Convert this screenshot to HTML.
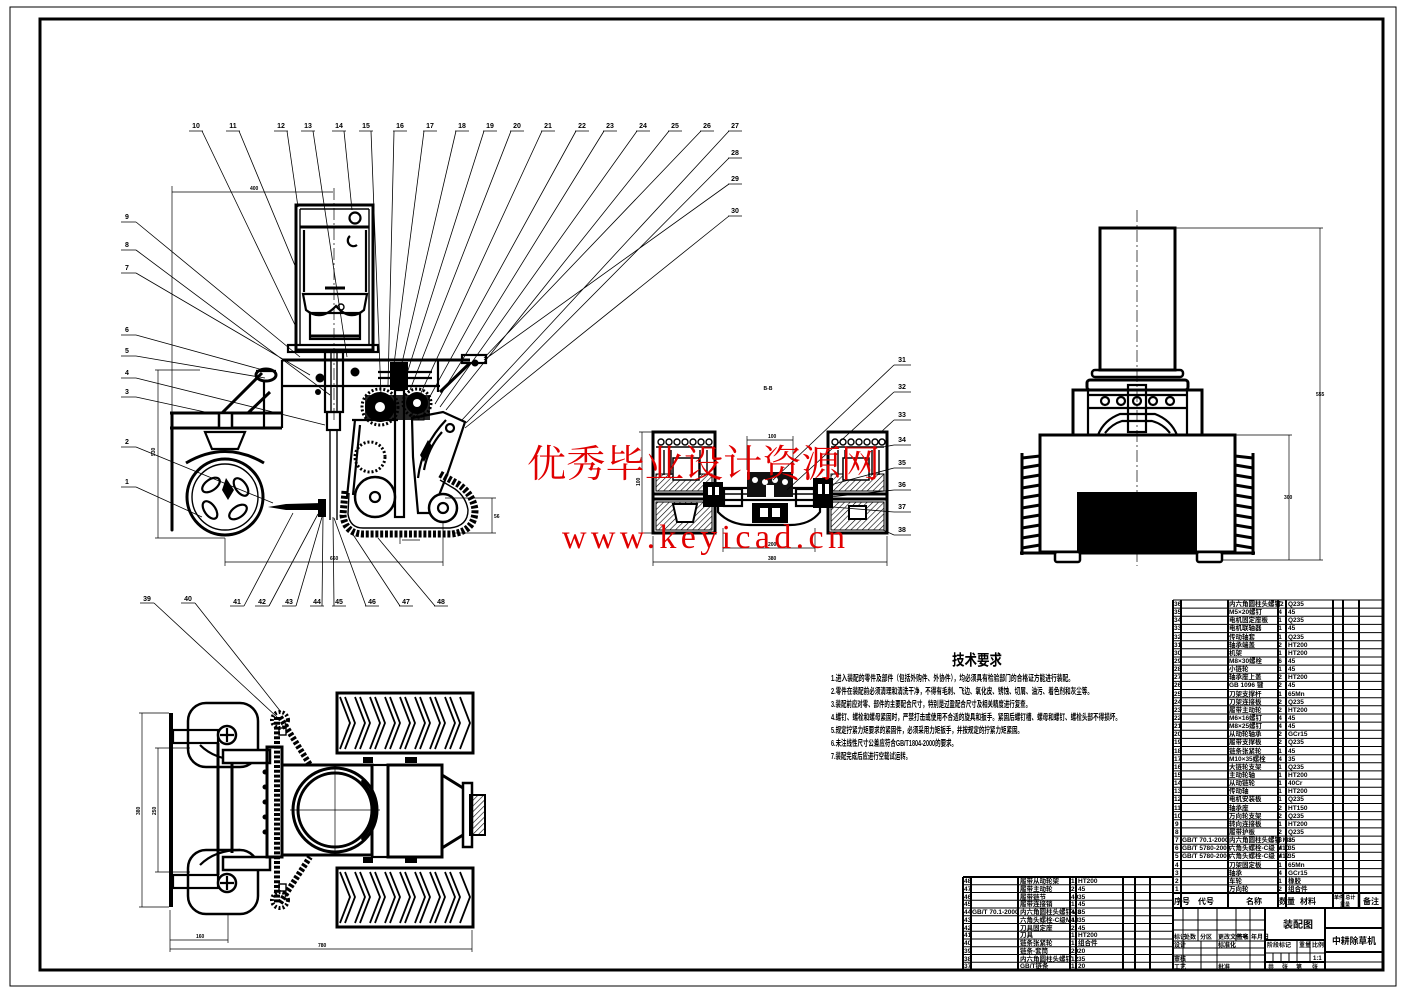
<!DOCTYPE html>
<html><head><meta charset="utf-8">
<style>
html,body{margin:0;padding:0;background:#fff;}
svg{display:block;}
text{font-family:"Liberation Sans","Noto Sans CJK SC",sans-serif;fill:#000;}
.t{font-size:7px;font-weight:bold;}
.l{stroke:#000;stroke-width:0.8;fill:none;}
.k{stroke:#000;stroke-width:2.2;fill:none;}
.kk{stroke:#000;stroke-width:3;fill:none;}
.m{stroke:#000;stroke-width:1.4;fill:none;}
.d{stroke:#000;stroke-width:0.7;fill:none;}
.cl{stroke:#000;stroke-width:0.7;fill:none;stroke-dasharray:12 3 2 3;}
</style></head><body>
<svg width="1403" height="992" viewBox="0 0 1403 992" xmlns="http://www.w3.org/2000/svg">
<defs>
<pattern id="h" width="4" height="4" patternUnits="userSpaceOnUse" patternTransform="rotate(45)"><line x1="0" y1="0" x2="0" y2="4" stroke="#000" stroke-width="1.2"/></pattern>
</defs>
<rect width="1403" height="992" fill="#fff"/>
<rect x="10" y="7" width="1386" height="979" fill="none" stroke="#000" stroke-width="1"/>
<rect x="40" y="19" width="1343" height="951" fill="none" stroke="#000" stroke-width="3"/>

<!-- ============ SIDE VIEW: leaders ============ -->
<g class="t" text-anchor="middle">
<text x="196" y="128">10</text><text x="233" y="128">11</text><text x="281" y="128">12</text><text x="308" y="128">13</text>
<text x="339" y="128">14</text><text x="366" y="128">15</text><text x="400" y="128">16</text><text x="430" y="128">17</text>
<text x="462" y="128">18</text><text x="490" y="128">19</text><text x="517" y="128">20</text><text x="548" y="128">21</text>
<text x="582" y="128">22</text><text x="610" y="128">23</text><text x="643" y="128">24</text><text x="675" y="128">25</text>
<text x="707" y="128">26</text><text x="735" y="128">27</text><text x="735" y="155">28</text><text x="735" y="181">29</text><text x="735" y="213">30</text>
<text x="127" y="219">9</text><text x="127" y="247">8</text><text x="127" y="270">7</text><text x="127" y="332">6</text>
<text x="127" y="353">5</text><text x="127" y="375">4</text><text x="127" y="394">3</text><text x="127" y="444">2</text><text x="127" y="484">1</text>
<text x="237" y="604">41</text><text x="262" y="604">42</text><text x="289" y="604">43</text><text x="317" y="604">44</text>
<text x="339" y="604">45</text><text x="372" y="604">46</text><text x="406" y="604">47</text><text x="441" y="604">48</text>
<text x="147" y="601">39</text><text x="188" y="601">40</text>
</g>
<path class="l" d="
M189,131H203 M226,131H240 M274,131H288 M301,131H315 M332,131H346 M359,131H373 M393,131H407 M423,131H437 M455,131H469 M483,131H497 M510,131H524 M541,131H555 M575,131H589 M603,131H617 M636,131H650 M668,131H682 M700,131H714 M728,131H742 M728,158H742 M728,184H742 M728,216H742
M202,131L296,327 M239,131L296,268 M287,131L298,207 M313,131L347,357 M344,131L352,210 M371,131L381,395
M394,131L388,385 M424,131L393,372 M456,131L398,380 M484,131L403,386 M511,131L410,390 M542,131L420,395
M576,131L428,400 M604,131L435,404 M637,131L440,407 M669,131L446,410 M701,131L484,358 M729,131L462,420
M729,158L466,423 M729,184L484,360 M729,216L465,428
M121,222H136 M121,250H136 M121,273H136 M121,335H136 M121,356H136 M121,378H136 M121,397H136 M121,447H136 M121,487H136
M136,222L300,357 M136,250L330,395 M136,273L310,375 M136,335L263,370 M136,356L265,378 M136,378L325,425 M136,397L205,412 M136,447L273,503 M136,487L202,517
M230,606H244 M255,606H269 M282,606H296 M310,606H324 M332,606H346 M365,606H379 M399,606H413 M434,606H448
M244,606L293,513 M269,606L318,514 M296,606L322,517 M322,606L323,517 M334,606L333,517 M366,606L334,518 M400,606L352,533 M435,606L378,538
M140,603H154 M181,603H195 M154,603L277,717 M195,603L281,712
"/>

<!-- ============ SIDE VIEW: machine ============ -->
<rect class="kk" x="296" y="205" width="77" height="145"/>
<path class="m" d="M300,209V346 M369,209V346 M300,209H369"/>
<path class="kk" d="M300,227H369"/>
<path class="k" d="M304,230V292 M366,230V292"/>
<circle class="k" cx="355" cy="218" r="5.5"/>
<path class="k" d="M350,236 A5,5 0 1 0 357,245"/>
<path class="k" d="M303,294H367 L364,310 Q350,322 336,306 Q321,322 306,310 Z"/>
<circle class="m" cx="341" cy="307" r="3"/>
<path class="kk" d="M325,288H345"/>
<rect class="k" x="310" y="313" width="50" height="26"/>
<path class="kk" d="M310,336H360"/>
<rect class="k" x="288" y="345" width="90" height="7"/>
<path class="cl" d="M334,188V420"/>
<path class="kk" d="M282,360H470"/>
<path class="k" d="M282,360V388 M282,386H440 M438,360V392"/>
<path class="kk" d="M440,392L470,363"/>
<rect class="k" x="462" y="355" width="24" height="8"/>
<circle cx="475" cy="363" r="3.5" fill="#000"/>
<ellipse class="kk" cx="266" cy="375" rx="10" ry="6"/>
<path class="k" d="M256,371H276"/>
<path class="kk" d="M170,413H282 M170,428H282"/>
<rect x="219" y="413" width="13" height="15" fill="#fff" stroke="#000" stroke-width="2.5"/>
<path class="kk" d="M172,413V530" stroke-linecap="round"/>
<path class="kk" d="M222,413L262,373 M248,413L270,392"/>
<path class="k" d="M264,380V428 M282,388V428"/>
<path class="k" d="M205,432H245L238,449H212Z"/>
<path class="kk" d="M186,463 Q225,440 264,463"/>
<circle class="kk" cx="225" cy="497" r="38"/>
<circle class="m" cx="225" cy="497" r="33"/>
<g class="k">
<ellipse cx="211" cy="485" rx="10" ry="5.5" transform="rotate(-35 211 485)"/>
<ellipse cx="241" cy="487" rx="10" ry="5.5" transform="rotate(55 241 487)"/>
<ellipse cx="238" cy="512" rx="10" ry="5.5" transform="rotate(-35 238 512)"/>
<ellipse cx="210" cy="510" rx="10" ry="5.5" transform="rotate(55 210 510)"/>
</g>
<path d="M226,478 L234,490 L228,500 L222,490Z" fill="#000"/>
<rect class="k" x="325" y="352" width="18" height="60"/>
<path class="m" d="M331,352V412 M337,352V412"/>
<rect class="k" x="327" y="412" width="13" height="18"/>
<path class="m" d="M330,430V520 M337,430V520"/>
<circle cx="320" cy="378" r="4.5" fill="#000"/>
<circle cx="355" cy="372" r="4.5" fill="#000"/>
<circle cx="318" cy="392" r="3" fill="#000"/>
<path d="M268,507 L286,504 L322,503 L322,510 L286,510Z" fill="#000"/>
<rect x="318" y="499" width="8" height="18" fill="#000"/>
<path class="k" d="M378,372H432 M378,378H432"/>
<rect x="390" y="362" width="18" height="28" fill="#000"/>
<rect class="k" x="395" y="390" width="9" height="127"/>
<path d="M365,395 H430 V420 H365Z" fill="#000" opacity="0.85"/>
<circle cx="380" cy="407" r="15" fill="#000"/>
<circle cx="380" cy="407" r="18" fill="none" stroke="#000" stroke-width="3" stroke-dasharray="2 2"/>
<circle cx="380" cy="407" r="5" fill="#fff"/>
<circle cx="417" cy="403" r="11" fill="#000"/>
<circle cx="417" cy="403" r="14" fill="none" stroke="#000" stroke-width="3" stroke-dasharray="2 2"/>
<circle cx="417" cy="403" r="4" fill="#fff"/>
<rect x="412" y="410" width="12" height="10" fill="url(#h)" stroke="#000"/>
<path class="k" d="M352,420H398 M355,420L347,497 M360,425L353,495"/>
<circle cx="370" cy="457" r="15" fill="none" stroke="#000" stroke-width="3" stroke-dasharray="2 2"/>
<path class="k" d="M412,418 L443,412 L465,422 L460,437 L447,475 L432,513 L418,513 L413,457Z"/>
<circle class="k" cx="450" cy="428" r="4"/>
<path class="k" d="M418,478 Q422,445 446,420 M424,470 Q428,448 442,432"/>
<path d="M420,455 L428,440 L432,446 L424,462Z" fill="#000"/>
<circle cx="375" cy="497" r="20" fill="#fff" stroke="#000" stroke-width="2.5"/>
<circle class="k" cx="375" cy="497" r="5"/>
<path d="M345,491 L343,515 Q345,533 362,534 L452,534 Q475,531 475,510 Q473,494 458,484 L440,474" fill="none" stroke="#000" stroke-width="7" stroke-dasharray="3 1.8"/>
<path d="M349,493 L348,514 Q350,528 363,528 L450,528 Q468,526 468,510 Q466,497 455,489 L440,480" fill="none" stroke="#000" stroke-width="1.4"/>
<circle cx="443" cy="508" r="14" fill="#fff" stroke="#000" stroke-width="2.5"/>
<circle class="k" cx="443" cy="508" r="5"/>
<path class="d" d="M172,192H333 M172,186V413 M158,370V538 M155,370H200 M155,538H225 M225,538V566 M443,522V566 M225,562H443 M492,498V533 M445,498H496 M455,533H496 M402,540H420 M400,536V544"/>
<g class="t" style="font-size:5px"><text x="250" y="190">400</text><text x="330" y="560">660</text><text x="494" y="518">56</text>
<text x="155" y="456" transform="rotate(-90 155 456)">530</text></g>

<!-- ============ SECTION VIEW B-B ============ -->
<text class="t" x="768" y="390" style="font-size:5px" text-anchor="middle">B-B</text>
<rect class="kk" x="653" y="432" width="62" height="101"/>
<rect class="kk" x="828" y="432" width="59" height="101"/>
<g class="m">
<path d="M656,447H712 M831,447H884"/>
<circle cx="661" cy="442" r="3"/><circle cx="669" cy="442" r="3"/><circle cx="677" cy="442" r="3"/><circle cx="685" cy="442" r="3"/><circle cx="693" cy="442" r="3"/><circle cx="701" cy="442" r="3"/><circle cx="709" cy="442" r="3"/>
<circle cx="835" cy="442" r="3"/><circle cx="843" cy="442" r="3"/><circle cx="851" cy="442" r="3"/><circle cx="859" cy="442" r="3"/><circle cx="867" cy="442" r="3"/><circle cx="875" cy="442" r="3"/><circle cx="882" cy="442" r="3"/>
<path d="M664,450V475 M671,450V475 M700,450V475 M707,450V475 M838,450V475 M845,450V475 M872,450V475 M879,450V475"/>
</g>
<rect x="656" y="474" width="56" height="17" fill="url(#h)" stroke="#000"/>
<rect x="673" y="458" width="26" height="22" fill="#fff" stroke="#000" stroke-width="1.5"/>
<rect x="831" y="474" width="53" height="17" fill="url(#h)" stroke="#000"/>
<rect x="843" y="458" width="26" height="22" fill="#fff" stroke="#000" stroke-width="1.5"/>
<path class="kk" d="M653,494H715 M653,499H715 M828,494H887 M828,499H887"/>
<rect x="656" y="502" width="56" height="28" fill="url(#h)" stroke="#000"/>
<path d="M673,504 L697,504 L693,522 L677,522Z" fill="#fff" stroke="#000" stroke-width="2"/>
<rect x="831" y="502" width="53" height="28" fill="url(#h)" stroke="#000"/>
<rect x="849" y="506" width="17" height="13" fill="#fff" stroke="#000" stroke-width="2"/>
<rect class="k" x="715" y="488" width="113" height="12"/>
<path class="m" d="M720,494H823"/>
<rect x="703" y="482" width="20" height="25" fill="#000"/>
<rect x="708" y="487" width="4" height="8" fill="#fff"/><rect x="715" y="487" width="4" height="8" fill="#fff"/>
<rect x="813" y="478" width="20" height="30" fill="#000"/>
<rect x="818" y="484" width="4" height="10" fill="#fff"/><rect x="825" y="484" width="4" height="10" fill="#fff"/>
<rect class="k" x="724" y="489" width="18" height="17"/>
<rect class="k" x="796" y="489" width="18" height="17"/>
<rect x="747" y="472" width="46" height="25" fill="#111"/>
<circle cx="755" cy="480" r="3" fill="#fff"/><circle cx="765" cy="482" r="3" fill="#fff"/><circle cx="775" cy="480" r="3" fill="#fff"/><circle cx="785" cy="482" r="3" fill="#fff"/>
<rect x="766" y="485" width="8" height="12" fill="#fff"/>
<path class="k" d="M718,505 L718,512 Q730,525 750,525 L790,525 Q810,525 820,512 L820,505"/>
<rect x="752" y="503" width="36" height="20" fill="#000"/>
<rect x="760" y="508" width="8" height="9" fill="#fff"/><rect x="772" y="508" width="8" height="9" fill="#fff"/>
<path class="d" d="M642,432V533 M639,432H653 M639,533H653 M653,536V566 M887,536V566 M653,562H887 M723,528V552 M815,528V552 M723,548H815 M747,436V470 M793,436V470 M747,440H793"/>
<g class="t" style="font-size:5px"><text x="768" y="438">100</text><text x="768" y="546">200</text><text x="768" y="560">380</text>
<text x="640" y="486" transform="rotate(-90 640 486)">100</text></g>
<g class="t" text-anchor="middle">
<text x="902" y="362">31</text><text x="902" y="389">32</text><text x="902" y="417">33</text><text x="902" y="442">34</text>
<text x="902" y="465">35</text><text x="902" y="487">36</text><text x="902" y="509">37</text><text x="902" y="532">38</text>
</g>
<path class="l" d="M894,365H911 M894,392H911 M894,420H911 M894,445H911 M894,468H911 M894,490H911 M894,512H911 M894,535H911
M894,365L773,480 M894,392L787,490 M894,420L880,433 M894,445L883,447 M894,468L830,485 M894,490L830,497 M894,512L833,507 M894,535L883,530"/>

<!-- ============ RIGHT VIEW ============ -->
<rect class="kk" x="1100" y="228" width="75" height="142"/>
<rect x="1092" y="370" width="91" height="7" rx="3" fill="none" stroke="#000" stroke-width="2.5"/>
<rect x="1087" y="380" width="101" height="10" rx="3" fill="#fff" stroke="#000" stroke-width="3"/>
<rect class="kk" x="1073" y="390" width="129" height="45"/>
<path class="k" d="M1088,390V435 M1187,390V435 M1088,395H1187 M1088,408H1187"/>
<g class="k"><circle cx="1105" cy="401" r="4"/><circle cx="1121" cy="401" r="4"/><circle cx="1137" cy="401" r="4"/><circle cx="1153" cy="401" r="4"/><circle cx="1170" cy="401" r="4"/></g>
<path class="k" d="M1098,435 Q1104,420 1120,414 L1155,414 Q1171,420 1177,435 M1105,433 Q1112,424 1122,421 L1152,421 Q1163,424 1170,433"/>
<rect class="k" x="1128" y="385" width="18" height="47"/>
<rect class="kk" x="1040" y="435" width="195" height="117"/>
<rect x="1077" y="492" width="120" height="60" fill="#000"/>
<path d="M1022,453 V555 M1253,453 V555" stroke="#000" stroke-width="3"/>
<g stroke="#000" stroke-width="3">
<path d="M1022,458L1040,456 M1022,468L1040,465 M1022,478L1040,475 M1022,488L1040,485 M1022,498L1040,495 M1022,508L1040,505 M1022,518L1040,515 M1022,528L1040,525 M1022,538L1040,535 M1022,548L1040,545"/>
<path d="M1235,456L1253,458 M1235,465L1253,468 M1235,475L1253,478 M1235,485L1253,488 M1235,495L1253,498 M1235,505L1253,508 M1235,515L1253,518 M1235,525L1253,528 M1235,535L1253,538 M1235,545L1253,548"/>
</g>
<path class="kk" d="M1020,553H1255"/>
<rect x="1055" y="552" width="25" height="10" rx="2" fill="#fff" stroke="#000" stroke-width="2.5"/>
<rect x="1197" y="552" width="25" height="10" rx="2" fill="#fff" stroke="#000" stroke-width="2.5"/>
<path class="cl" d="M1137,210V566"/>
<path class="d" d="M1320,228V560 M1175,228H1323 M1222,560H1323 M1289,435V560 M1235,435H1292"/>
<g class="t" style="font-size:5px"><text x="1316" y="396">555</text><text x="1284" y="499">300</text></g>

<!-- ============ TOP VIEW (bottom-left) ============ -->
<rect x="169" y="713" width="4" height="194" fill="#000"/>
<rect class="k" x="173" y="730" width="45" height="13"/>
<rect class="k" x="173" y="875" width="45" height="13"/>
<rect x="188" y="703" width="70" height="64" rx="18" fill="none" stroke="#000" stroke-width="2.5"/>
<rect x="188" y="850" width="70" height="64" rx="18" fill="none" stroke="#000" stroke-width="2.5"/>
<path class="k" d="M200,745 Q215,760 240,760 M200,865 Q215,850 240,850"/>
<circle cx="227" cy="735" r="9" fill="#fff" stroke="#000" stroke-width="2.5"/>
<path class="k" d="M220,735H234 M227,728V742"/>
<circle cx="227" cy="883" r="9" fill="#fff" stroke="#000" stroke-width="2.5"/>
<path class="k" d="M220,883H234 M227,876V890"/>
<path class="kk" d="M218,743V875 M232,763V853"/>
<rect x="223" y="750" width="47" height="13" fill="#fff" stroke="#000" stroke-width="2.5"/>
<rect x="223" y="857" width="47" height="13" fill="#fff" stroke="#000" stroke-width="2.5"/>
<rect class="kk" x="267" y="747" width="15" height="110"/>
<g fill="#000"><circle cx="265" cy="772" r="2.5"/><circle cx="265" cy="787" r="2.5"/><circle cx="265" cy="802" r="2.5"/><circle cx="265" cy="817" r="2.5"/><circle cx="265" cy="832" r="2.5"/></g>
<path d="M277,717 L277,870 L277,903" fill="none" stroke="#000" stroke-width="6" stroke-dasharray="3 1.8"/>
<path d="M280,717 L310,765 M280,903 L310,857" fill="none" stroke="#000" stroke-width="6" stroke-dasharray="3 1.8"/>
<circle cx="280" cy="720" r="8" fill="none" stroke="#000" stroke-width="4" stroke-dasharray="2 2"/>
<circle cx="280" cy="900" r="8" fill="none" stroke="#000" stroke-width="4" stroke-dasharray="2 2"/>
<rect class="m" x="279" y="728" width="7" height="7"/><rect class="m" x="279" y="884" width="7" height="7"/>
<rect class="kk" x="282" y="765" width="90" height="90"/>
<circle class="kk" cx="335" cy="810" r="42"/>
<circle class="kk" cx="335" cy="810" r="37"/>
<path class="d" d="M290,810H380 M335,765V855"/>
<path class="kk" d="M362,780 L375,800 L375,820 L362,840"/>
<rect class="k" x="372" y="765" width="16" height="92"/>
<rect class="kk" x="388" y="765" width="54" height="92"/>
<rect x="363" y="757" width="10" height="6" fill="#000"/><rect x="363" y="857" width="10" height="6" fill="#000"/>
<rect x="405" y="757" width="12" height="6" fill="#000"/><rect x="405" y="857" width="12" height="6" fill="#000"/>
<path class="kk" d="M442,775 L463,788 M442,848 L463,835"/>
<rect x="463" y="783" width="9" height="64" fill="#fff" stroke="#000" stroke-width="2.5"/>
<rect x="470" y="795" width="15" height="40" fill="url(#h)" stroke="#000" stroke-width="2"/>
<rect class="kk" x="337" y="693" width="136" height="60"/>
<rect class="kk" x="337" y="868" width="136" height="59"/>
<g stroke="#000" stroke-width="1.8" fill="none">
<path d="M340,697L350,723L340,749 M345,697L355,723L345,749 M355,697L365,723L355,749 M360,697L370,723L360,749 M370,697L380,723L370,749 M375,697L385,723L375,749 M385,697L395,723L385,749 M390,697L400,723L390,749 M400,697L410,723L400,749 M405,697L415,723L405,749 M415,697L425,723L415,749 M420,697L430,723L420,749 M430,697L440,723L430,749 M435,697L445,723L435,749 M445,697L455,723L445,749 M450,697L460,723L450,749 M460,697L470,723L460,749"/>
<path d="M340,872L350,897L340,923 M345,872L355,897L345,923 M355,872L365,897L355,923 M360,872L370,897L360,923 M370,872L380,897L370,923 M375,872L385,897L375,923 M385,872L395,897L385,923 M390,872L400,897L390,923 M400,872L410,897L400,923 M405,872L415,897L405,923 M415,872L425,897L415,923 M420,872L430,897L420,923 M430,872L440,897L430,923 M435,872L445,897L435,923 M445,872L455,897L445,923 M450,872L460,897L450,923 M460,872L470,897L460,923"/>
</g>
<path class="d" d="M142,713V907 M139,713H169 M139,907H169 M158,748V872 M155,748H190 M155,872H190 M170,910V952 M228,915V943 M170,940H228 M472,930V952 M170,949H472"/>
<g class="t" style="font-size:5px"><text x="196" y="938">160</text><text x="318" y="947">780</text>
<text x="140" y="815" transform="rotate(-90 140 815)">380</text><text x="156" y="815" transform="rotate(-90 156 815)">250</text></g>

<!-- ============ TECH REQUIREMENTS ============ -->
<text x="952" y="665" font-size="15" font-weight="bold" textLength="50" lengthAdjust="spacingAndGlyphs">技术要求</text>
<g font-size="8.5" font-weight="bold">
<text x="831" y="681" textLength="243" lengthAdjust="spacingAndGlyphs">1.进入装配的零件及部件（包括外购件、外协件），均必须具有检验部门的合格证方能进行装配。</text>
<text x="831" y="694" textLength="262" lengthAdjust="spacingAndGlyphs">2.零件在装配前必须清理和清洗干净，不得有毛刺、飞边、氧化皮、锈蚀、切屑、油污、着色剂和灰尘等。</text>
<text x="831" y="707" textLength="200" lengthAdjust="spacingAndGlyphs">3.装配前应对零、部件的主要配合尺寸，特别是过盈配合尺寸及相关精度进行复查。</text>
<text x="831" y="720" textLength="290" lengthAdjust="spacingAndGlyphs">4.螺钉、螺栓和螺母紧固时，严禁打击或使用不合适的旋具和扳手。紧固后螺钉槽、螺母和螺钉、螺栓头部不得损坏。</text>
<text x="831" y="733" textLength="192" lengthAdjust="spacingAndGlyphs">5.规定拧紧力矩要求的紧固件，必须采用力矩扳手，并按规定的拧紧力矩紧固。</text>
<text x="831" y="746" textLength="126" lengthAdjust="spacingAndGlyphs">6.未注线性尺寸公差应符合GB/T1804-2000的要求。</text>
<text x="831" y="759" textLength="80" lengthAdjust="spacingAndGlyphs">7.装配完成后应进行空载试运转。</text>
</g>

<!-- ============ WATERMARK ============ -->
<text x="527" y="477" font-size="38" style="fill:#e00000;font-family:'Noto Serif CJK SC','Liberation Serif',serif" textLength="353" lengthAdjust="spacingAndGlyphs">优秀毕业设计资源网</text>
<text x="562" y="548" font-size="34" style="fill:#e00000;font-family:'Liberation Serif',serif" textLength="283" lengthAdjust="spacing">www.keyicad.cn</text>

<!-- ============ PARTS LIST (right) ============ -->
<g stroke="#000" fill="none">
<path stroke-width="1" d="M1173,600H1382 M1173,608.1H1382 M1173,616.3H1382 M1173,624.4H1382 M1173,632.6H1382 M1173,640.7H1382 M1173,648.8H1382 M1173,657H1382 M1173,665.1H1382 M1173,673.3H1382 M1173,681.4H1382 M1173,689.5H1382 M1173,697.7H1382 M1173,705.8H1382 M1173,714H1382 M1173,722.1H1382 M1173,730.2H1382 M1173,738.4H1382 M1173,746.5H1382 M1173,754.7H1382 M1173,762.8H1382 M1173,770.9H1382 M1173,779.1H1382 M1173,787.2H1382 M1173,795.4H1382 M1173,803.5H1382 M1173,811.6H1382 M1173,819.8H1382 M1173,827.9H1382 M1173,836.1H1382 M1173,844.2H1382 M1173,852.3H1382 M1173,860.5H1382 M1173,868.6H1382 M1173,876.8H1382 M1173,884.9H1382"/>
<path stroke-width="2" d="M1173,600V970 M1181,600V908 M1228,600V908 M1278,600V908 M1286,600V908 M1333,600V908 M1343,600V908 M1359,600V908 M1173,893H1383 M1173,908H1383"/>
<path stroke-width="2" d="M963,877V970 M971,877V970 M1018,877V970 M1070,877V970 M1076,877V970 M1123,877V970 M1135,877V970 M1150,877V970 M963,877H1173"/>
<path stroke-width="1" d="M963,884.8H1173 M963,892.5H1173 M963,900.3H1173 M963,908H1173 M963,915.8H1173 M963,923.5H1173 M963,931.3H1173 M963,939H1173 M963,946.8H1173 M963,954.5H1173 M963,962.3H1173"/>
<path stroke-width="2" d="M1265,908V970 M1325,908V970"/>
<path stroke-width="1" d="M1173,920H1265 M1173,930H1265 M1173,941H1265 M1173,948H1265 M1173,955H1265 M1173,962H1265 M1183,908V970 M1198,908V941 M1217,908V970 M1236,908V941 M1250,908V970 M1201,941V970"/>
<path stroke-width="2" d="M1265,940H1325 M1265,962H1325 M1325,928H1383 M1325,952H1383"/>
<path stroke-width="1" d="M1265,953H1325 M1297,940V962 M1310,940V962 M1273,953V962 M1281,953V962 M1289,953V962 M1325,962H1383"/>
<path stroke-width="2.5" d="M1343,893V908 M1359,893V908"/>
</g>
<g class="t" style="font-size:6.5px">
<text x="1174" y="606">36</text><text x="1174" y="614">35</text><text x="1174" y="622">34</text><text x="1174" y="630">33</text><text x="1174" y="639">32</text><text x="1174" y="647">31</text><text x="1174" y="655">30</text><text x="1174" y="663">29</text><text x="1174" y="671">28</text><text x="1174" y="679">27</text><text x="1174" y="687">26</text><text x="1174" y="696">25</text><text x="1174" y="704">24</text><text x="1174" y="712">23</text><text x="1174" y="720">22</text><text x="1174" y="728">21</text><text x="1174" y="736">20</text><text x="1174" y="744">19</text><text x="1174" y="753">18</text><text x="1174" y="761">17</text><text x="1174" y="769">16</text><text x="1174" y="777">15</text><text x="1174" y="785">14</text><text x="1174" y="793">13</text><text x="1174" y="801">12</text><text x="1174" y="810">11</text><text x="1174" y="818">10</text><text x="1175" y="826">9</text><text x="1175" y="834">8</text><text x="1175" y="842">7</text><text x="1175" y="850">6</text><text x="1175" y="858">5</text><text x="1175" y="867">4</text><text x="1175" y="875">3</text><text x="1175" y="883">2</text><text x="1175" y="891">1</text>
</g>
<g class="t" style="font-size:6.5px">
<text x="1229" y="606">内六角圆柱头螺钉</text><text x="1229" y="614">M5×20螺钉</text><text x="1229" y="622">电机固定座板</text><text x="1229" y="630">电机联轴器</text><text x="1229" y="639">传动轴套</text><text x="1229" y="647">轴承端盖</text><text x="1229" y="655">机架</text><text x="1229" y="663">M8×30螺栓</text><text x="1229" y="671">小链轮</text><text x="1229" y="679">轴承座上盖</text><text x="1229" y="687">GB 1096 键</text><text x="1229" y="696">刀架支撑杆</text><text x="1229" y="704">刀架连接板</text><text x="1229" y="712">履带主动轮</text><text x="1229" y="720">M6×16螺钉</text><text x="1229" y="728">M8×25螺钉</text><text x="1229" y="736">从动轮轴承</text><text x="1229" y="744">履带支撑板</text><text x="1229" y="753">链条张紧轮</text><text x="1229" y="761">M10×35螺栓</text><text x="1229" y="769">大链轮支架</text><text x="1229" y="777">主动轮轴</text><text x="1229" y="785">从动链轮</text><text x="1229" y="793">传动轴</text><text x="1229" y="801">电机安装板</text><text x="1229" y="810">轴承座</text><text x="1229" y="818">万向轮支架</text><text x="1229" y="826">转向连接板</text><text x="1229" y="834">履带护板</text><text x="1229" y="842">内六角圆柱头螺钉 M8</text><text x="1229" y="850">六角头螺栓-C级 M10</text><text x="1229" y="858">六角头螺栓-C级 M12</text><text x="1229" y="867">刀架固定板</text><text x="1229" y="875">轴承</text><text x="1229" y="883">车轮</text><text x="1229" y="891">万向轮</text>
<text x="1182" y="842">GB/T 70.1-2000</text><text x="1182" y="850">GB/T 5780-2000</text><text x="1182" y="858">GB/T 5780-2000</text>
</g>
<g class="t" style="font-size:6.5px">
<text x="1288" y="606">Q235</text><text x="1288" y="614">45</text><text x="1288" y="622">Q235</text><text x="1288" y="630">45</text><text x="1288" y="639">Q235</text><text x="1288" y="647">HT200</text><text x="1288" y="655">HT200</text><text x="1288" y="663">45</text><text x="1288" y="671">45</text><text x="1288" y="679">HT200</text><text x="1288" y="687">45</text><text x="1288" y="696">65Mn</text><text x="1288" y="704">Q235</text><text x="1288" y="712">HT200</text><text x="1288" y="720">45</text><text x="1288" y="728">45</text><text x="1288" y="736">GCr15</text><text x="1288" y="744">Q235</text><text x="1288" y="753">45</text><text x="1288" y="761">35</text><text x="1288" y="769">Q235</text><text x="1288" y="777">HT200</text><text x="1288" y="785">40Cr</text><text x="1288" y="793">HT200</text><text x="1288" y="801">Q235</text><text x="1288" y="810">HT150</text><text x="1288" y="818">Q235</text><text x="1288" y="826">HT200</text><text x="1288" y="834">Q235</text><text x="1288" y="842">35</text><text x="1288" y="850">35</text><text x="1288" y="858">35</text><text x="1288" y="867">65Mn</text><text x="1288" y="875">GCr15</text><text x="1288" y="883">橡胶</text><text x="1288" y="891">组合件</text>
</g>
<g class="t" style="font-size:6.5px" text-anchor="middle">
<text x="1280" y="606">12</text><text x="1280" y="614">4</text><text x="1280" y="622">1</text><text x="1280" y="630">1</text><text x="1280" y="639">1</text><text x="1280" y="647">2</text><text x="1280" y="655">1</text><text x="1280" y="663">6</text><text x="1280" y="671">1</text><text x="1280" y="679">2</text><text x="1280" y="687">2</text><text x="1280" y="696">1</text><text x="1280" y="704">2</text><text x="1280" y="712">2</text><text x="1280" y="720">4</text><text x="1280" y="728">4</text><text x="1280" y="736">2</text><text x="1280" y="744">2</text><text x="1280" y="753">1</text><text x="1280" y="761">4</text><text x="1280" y="769">1</text><text x="1280" y="777">1</text><text x="1280" y="785">1</text><text x="1280" y="793">1</text><text x="1280" y="801">1</text><text x="1280" y="810">2</text><text x="1280" y="818">2</text><text x="1280" y="826">1</text><text x="1280" y="834">2</text><text x="1280" y="842">8</text><text x="1280" y="850">4</text><text x="1280" y="858">4</text><text x="1280" y="867">1</text><text x="1280" y="875">4</text><text x="1280" y="883">1</text><text x="1280" y="891">2</text>
</g>
<g class="t" style="font-size:8px">
<text x="1174" y="904">序号</text><text x="1198" y="904">代号</text><text x="1246" y="904">名称</text><text x="1279" y="904">数量</text><text x="1300" y="904">材料</text>
<text x="1334" y="899" style="font-size:5px">单件 总计</text><text x="1340" y="906" style="font-size:5px">重量</text><text x="1363" y="904">备注</text>
</g>
<g class="t" style="font-size:6.5px">
<text x="964" y="883">48</text><text x="964" y="891">47</text><text x="964" y="899">46</text><text x="964" y="906">45</text><text x="964" y="914">44</text><text x="964" y="922">43</text><text x="964" y="930">42</text><text x="964" y="937">41</text><text x="964" y="945">40</text><text x="964" y="953">39</text><text x="964" y="961">38</text><text x="964" y="968">37</text>
<text x="1020" y="883">履带从动轮架</text><text x="1020" y="891">履带主动轮</text><text x="1020" y="899">履带链节</text><text x="1020" y="906">履带连接销</text><text x="1020" y="914">内六角圆柱头螺钉M8</text><text x="1020" y="922">六角头螺栓-C级M10</text><text x="1020" y="930">刀具固定座</text><text x="1020" y="937">刀具</text><text x="1020" y="945">链条张紧轮</text><text x="1020" y="953">链条-套筒</text><text x="1020" y="961">内六角圆柱头螺钉</text><text x="1020" y="968">GB/T链条</text>
<text x="972" y="914">GB/T 70.1-2000</text>
<text x="1071" y="883">1</text><text x="1071" y="891">2</text><text x="1071" y="899">40</text><text x="1071" y="906">1</text><text x="1071" y="914">4</text><text x="1071" y="922">4</text><text x="1071" y="930">2</text><text x="1071" y="937">1</text><text x="1071" y="945">1</text><text x="1071" y="953">20</text><text x="1071" y="961">12</text><text x="1071" y="968">1</text>
<text x="1078" y="883">HT200</text><text x="1078" y="891">45</text><text x="1078" y="899">35</text><text x="1078" y="906">45</text><text x="1078" y="914">35</text><text x="1078" y="922">35</text><text x="1078" y="930">45</text><text x="1078" y="937">HT200</text><text x="1078" y="945">组合件</text><text x="1078" y="953">20</text><text x="1078" y="961">35</text><text x="1078" y="968">20</text>
</g>
<g class="t" style="font-size:6px">
<text x="1174" y="939">标记</text><text x="1184" y="939">处数</text><text x="1200" y="939">分区</text><text x="1218" y="939">更改文件号</text><text x="1237" y="939">签名</text><text x="1251" y="939">年月日</text>
<text x="1174" y="947">设计</text><text x="1218" y="947">标准化</text><text x="1174" y="961">审核</text><text x="1174" y="969">工艺</text><text x="1218" y="969">批准</text>
<text x="1267" y="947">阶段标记</text><text x="1299" y="947">重量</text><text x="1312" y="947">比例</text><text x="1313" y="960">1:1</text>
<text x="1268" y="969">共</text><text x="1282" y="969">张</text><text x="1296" y="969">第</text><text x="1312" y="969">张</text>
</g>
<text x="1283" y="928" font-size="10" font-weight="bold">装配图</text>
<text x="1332" y="944" font-size="9" font-weight="bold" textLength="44" lengthAdjust="spacingAndGlyphs">中耕除草机</text>
</svg>
</body></html>
